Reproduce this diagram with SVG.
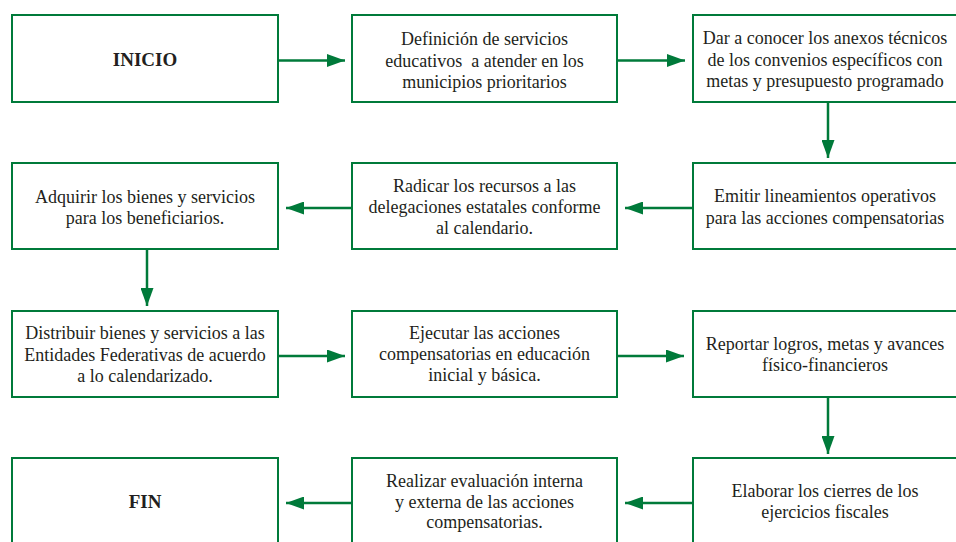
<svg xmlns="http://www.w3.org/2000/svg" width="956" height="542" viewBox="0 0 956 542">
<style>
.box{fill:#fff;stroke:#007a3a;stroke-width:2}
text{font-family:'Liberation Serif','DejaVu Serif',serif;font-size:18px;fill:#231f20;text-anchor:middle}
.b{font-weight:bold;font-size:19px}
.c{stroke:#007a3a;stroke-width:2.5;fill:none;marker-end:url(#ah)}
</style>
<defs>
<marker id="ah" markerUnits="userSpaceOnUse" markerWidth="18" markerHeight="13" viewBox="0 0 18 13" refX="18" refY="6.5" orient="auto">
<path d="M0,0 L18,6.5 L0,13 z" fill="#007a3a"/>
</marker>
</defs>
<rect width="956" height="542" fill="#fff"/>
<g id="inicio"><rect class="box" x="12" y="15" width="266" height="87"/><text class="b" x="145" y="66">INICIO</text></g>
<g id="definicion"><rect class="box" x="352" y="15" width="265" height="87"/><text x="484.5" y="45">Definición de servicios</text><text x="484.5" y="66.5" xml:space="preserve">educativos  a atender en los</text><text x="484.5" y="87.5">municipios prioritarios</text></g>
<g id="anexos"><rect class="box" x="693" y="15" width="266" height="87"/><text x="825" y="44">Dar a conocer los anexos técnicos</text><text x="825" y="65.5">de los convenios específicos con</text><text x="825" y="87">metas y presupuesto programado</text></g>
<g id="emitir"><rect class="box" x="693" y="163" width="266" height="86"/><text x="825" y="202">Emitir lineamientos operativos</text><text x="825" y="223.5">para las acciones compensatorias</text></g>
<g id="radicar"><rect class="box" x="352" y="163" width="265" height="86"/><text x="484.5" y="192">Radicar los recursos a las</text><text x="484.5" y="213">delegaciones estatales conforme</text><text x="484.5" y="234">al calendario.</text></g>
<g id="adquirir"><rect class="box" x="12" y="163" width="266" height="86"/><text x="145" y="203">Adquirir los bienes y servicios</text><text x="145" y="224">para los beneficiarios.</text></g>
<g id="distribuir"><rect class="box" x="12" y="311" width="266" height="86"/><text x="145" y="339">Distribuir bienes y servicios a las</text><text x="145" y="360.5">Entidades Federativas de acuerdo</text><text x="145" y="382">a lo calendarizado.</text></g>
<g id="ejecutar"><rect class="box" x="352" y="311" width="265" height="86"/><text x="484.5" y="338.5">Ejecutar las acciones</text><text x="484.5" y="359.5">compensatorias en educación</text><text x="484.5" y="380.5">inicial y básica.</text></g>
<g id="reportar"><rect class="box" x="693" y="311" width="266" height="86"/><text x="825" y="350">Reportar logros, metas y avances</text><text x="825" y="371">físico-financieros</text></g>
<g id="elaborar"><rect class="box" x="693" y="458" width="266" height="90"/><text x="825" y="497">Elaborar los cierres de los</text><text x="825" y="518">ejercicios fiscales</text></g>
<g id="realizar"><rect class="box" x="352" y="458" width="265" height="90"/><text x="484.5" y="487">Realizar evaluación interna</text><text x="484.5" y="507.5">y externa de las acciones</text><text x="484.5" y="528">compensatorias.</text></g>
<g id="fin"><rect class="box" x="12" y="458" width="266" height="90"/><text class="b" x="145" y="508">FIN</text></g>
<g id="connectors">
<line class="c" x1="278" y1="60.5" x2="345" y2="60.5"/>
<line class="c" x1="617" y1="60.5" x2="685" y2="60.5"/>
<line class="c" x1="828" y1="102" x2="828" y2="158"/>
<line class="c" x1="693" y1="208" x2="625" y2="208"/>
<line class="c" x1="352" y1="208" x2="286" y2="208"/>
<line class="c" x1="147" y1="249" x2="147" y2="306"/>
<line class="c" x1="278" y1="356" x2="345" y2="356"/>
<line class="c" x1="617" y1="356" x2="684" y2="356"/>
<line class="c" x1="828" y1="397" x2="828" y2="454"/>
<line class="c" x1="693" y1="503" x2="625" y2="503"/>
<line class="c" x1="352" y1="503" x2="286" y2="503"/>
</g>
</svg>
